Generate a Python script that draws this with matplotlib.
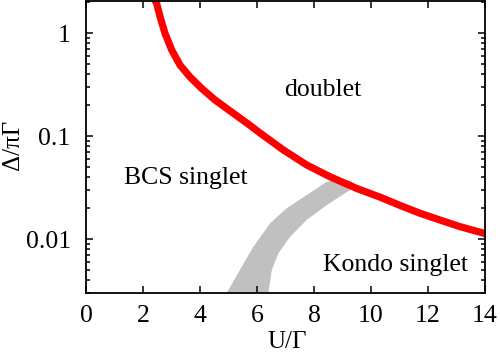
import matplotlib
matplotlib.use("Agg")
import matplotlib.pyplot as plt
from matplotlib.ticker import FixedLocator, FuncFormatter, LogLocator, NullFormatter

# phase boundary doublet / singlet (red line)
red_u = [2.42, 2.48, 2.60, 2.77, 3.01, 3.30, 3.65, 4.06, 4.53, 5.05, 5.69,
         6.11, 6.92, 7.74, 8.56, 9.50, 10.32, 11.02, 11.72, 12.42, 13.12, 14.0]
red_d = [2.09, 1.94, 1.44, 1.0, 0.684, 0.489, 0.375, 0.290, 0.224, 0.176, 0.131,
         0.107, 0.0735, 0.0525, 0.0403, 0.031, 0.0255, 0.0212, 0.0178, 0.0153,
         0.0132, 0.0113]

# BCS / Kondo crossover region (grey band), left and right edges
band_left_u = [4.94, 5.40, 5.87, 6.46, 7.04, 7.74, 8.45, 8.68, 9.3]
band_left_d = [0.003, 0.0050, 0.0084, 0.0142, 0.0199, 0.0267, 0.036, 0.0374, 0.037]
band_right_u = [6.40, 6.52, 6.75, 7.16, 7.74, 8.45, 9.26, 9.5]
band_right_d = [0.003, 0.0050, 0.00726, 0.0105, 0.0153, 0.0214, 0.0299, 0.031]

x_ticks = [0, 2, 4, 6, 8, 10, 12, 14]
y_ticks = [0.01, 0.1, 1]

plt.rcParams["font.family"] = ["Liberation Serif", "DejaVu Serif"]

fig = plt.figure(figsize=(5.0, 3.52), dpi=100)
ax = fig.add_axes([0.172, 0.168, 0.798, 0.829])

ax.fill(band_left_u + band_right_u[::-1], band_left_d + band_right_d[::-1],
        color="#c0c0c0", lw=0, zorder=1)
ax.plot(red_u, red_d, color="#ff0000", lw=5.2, solid_capstyle="butt",
        solid_joinstyle="round", zorder=2)

ax.set_yscale("log")
ax.set_xlim(0, 14)
ax.set_ylim(0.003, 2.05)

ax.xaxis.set_major_locator(FixedLocator(x_ticks))
ax.yaxis.set_major_locator(FixedLocator(y_ticks))
ax.yaxis.set_minor_locator(LogLocator(base=10, subs=range(2, 10)))
ax.yaxis.set_major_formatter(FuncFormatter(lambda v, p: f"{v:g}"))
ax.yaxis.set_minor_formatter(NullFormatter())

fs = 18.5
ax.tick_params(which="both", direction="in", top=True, right=True,
               labelsize=fs, width=1.1)
ax.tick_params(which="major", length=5)
ax.tick_params(which="minor", length=3)
ax.tick_params(axis="x", pad=9)
ax.tick_params(axis="y", pad=11)
for s in ax.spines.values():
    s.set_linewidth(1.3)

ax.set_xlabel("U/Γ", fontsize=18)
ax.set_ylabel("Δ/πΓ", fontsize=18)
ax.xaxis.set_label_coords(0.504, -0.132)
ax.yaxis.set_label_coords(-0.155, 0.507)

ax.text(8.3, 0.28, "doublet", fontsize=fs, ha="center", va="center")
ax.text(3.5, 0.039, "BCS singlet", fontsize=fs, ha="center", va="center")
ax.text(10.85, 0.0056, "Kondo singlet", fontsize=fs, ha="center", va="center")

fig.savefig("out.png", dpi=100)
